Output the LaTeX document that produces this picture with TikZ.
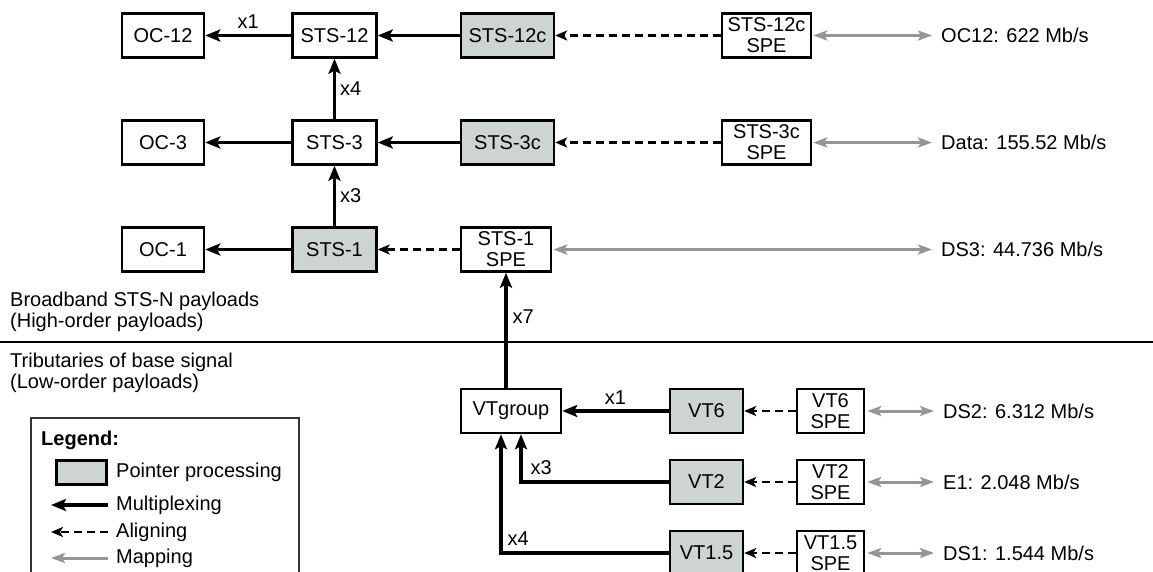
\documentclass[tikz,border=0pt]{standalone}
\usepackage{fontspec}
\setmainfont{Liberation Sans}
\usetikzlibrary{arrows.meta}
\definecolor{ptrfill}{RGB}{206,212,212}
\definecolor{mapgray}{RGB}{150,150,150}
\newcommand\dfont{\fontsize{20}{21}\selectfont}
\begin{document}
\begin{tikzpicture}[x=1pt,y=-1pt,
  box/.style={draw,line width=2.4pt,minimum height=44pt,inner sep=0pt,align=center,font=\dfont},
  ptr/.style={box,fill=ptrfill},
  lbl/.style={font=\dfont,inner sep=0pt},
  mux/.style={line width=3.2pt,-{Stealth[length=15pt,width=12pt,inset=3pt]}},
  aln/.style={line width=2.2pt,dash pattern=on 8pt off 5pt,-{Stealth[length=12pt,width=10pt,inset=3pt]}},
  mapg/.style={draw=mapgray,line width=3pt,{Stealth[length=14pt,width=10pt,inset=3pt]}-{Stealth[length=14pt,width=10pt,inset=3pt]}},
  mapone/.style={draw=mapgray,line width=3pt,-{Stealth[length=14pt,width=10pt,inset=3pt]}},
]
\useasboundingbox (0,0) rectangle (1153,571);
\clip (0,0) rectangle (1153,571);

% Row 1
\node[box,minimum width=82pt] (oc12) at (163,35.5) {OC-12};
\node[box,minimum width=84pt] (sts12) at (334.5,35.5) {STS-12};
\node[ptr,minimum width=93pt] (sts12c) at (507.5,35.5) {STS-12c};
\node[box,minimum width=89pt] (spe12c) at (766.5,35.5) {STS-12c\\SPE};
\node[lbl,anchor=west] (rate12) at (941,35.5) {OC12: 622 Mb/s};

% Row 2
\node[box,minimum width=82pt] (oc3) at (163,142.5) {OC-3};
\node[box,minimum width=84pt] (sts3) at (334.5,142.5) {STS-3};
\node[ptr,minimum width=93pt] (sts3c) at (507.5,142.5) {STS-3c};
\node[box,minimum width=89pt] (spe3c) at (766.5,142.5) {STS-3c\\SPE};
\node[lbl,anchor=west] (rate3) at (941,142.5) {Data: 155.52 Mb/s};

% Row 3
\node[box,minimum width=82pt] (oc1) at (163,249.5) {OC-1};
\node[ptr,minimum width=84pt] (sts1) at (334.5,249.5) {STS-1};
\node[box,minimum width=90pt] (spe1) at (506,249.5) {STS-1\\SPE};
\node[lbl,anchor=west] (rate1) at (941,249.5) {DS3: 44.736 Mb/s};

% Section texts
\node[lbl,anchor=west,align=left,font=\fontsize{20}{20.5}\selectfont] (hi) at (10,312) {Broadband STS-N payloads\\(High-order payloads)};
\node[lbl,anchor=west,align=left,font=\fontsize{20}{20.5}\selectfont] (lo) at (10,373) {Tributaries of base signal\\(Low-order payloads)};
\draw[line width=2pt] (0,342) -- (1153,342);

% VT region
\node[box,minimum width=100pt] (vtg) at (511,411) {VTgroup};
\node[ptr,minimum width=73pt] (vt6) at (706.5,411) {VT6};
\node[ptr,minimum width=73pt] (vt2) at (706.5,482) {VT2};
\node[ptr,minimum width=73pt] (vt15) at (706.5,553) {VT1.5};
\node[box,minimum width=67pt] (spe6) at (830.5,411) {VT6\\SPE};
\node[box,minimum width=67pt] (spe2) at (830.5,482) {VT2\\SPE};
\node[box,minimum width=67pt] (spe15) at (830.5,553) {VT1.5\\SPE};
\node[lbl,anchor=west] (rate6) at (943,411) {DS2: 6.312 Mb/s};
\node[lbl,anchor=west] (rate2) at (943,482) {E1: 2.048 Mb/s};
\node[lbl,anchor=west] (rate15) at (943,553) {DS1: 1.544 Mb/s};

% Connectors row 1
\draw[mux] (sts12) -- (oc12) node[midway,above=5pt,lbl] {x1};
\draw[mux] (sts12c) -- (sts12);
\draw[aln] (spe12c) -- (sts12c);
\draw[mapg,shorten <=1pt,shorten >=9pt] (spe12c) -- (rate12.west);
% Row 2
\draw[mux] (sts3) -- (oc3);
\draw[mux] (sts3c) -- (sts3);
\draw[aln] (spe3c) -- (sts3c);
\draw[mapg,shorten <=1pt,shorten >=9pt] (spe3c) -- (rate3.west);
\draw[mux] (sts3) -- (sts12) node[midway,right=4pt,lbl] {x4};
% Row 3
\draw[mux] (sts1) -- (oc1);
\draw[aln] (spe1) -- (sts1);
\draw[mapg,shorten <=1pt,shorten >=9pt] (spe1) -- (rate1.west);
\draw[mux] (sts1) -- (sts3) node[midway,right=4pt,lbl] {x3};
\draw[mux] (vtg.north -| spe1) -- (spe1) node[pos=0.62,right=5pt,lbl] {x7};

% VT connectors
\draw[mux] (vt6) -- (vtg) node[midway,above=5pt,lbl] {x1};
\draw[mux] (vt2.west) -| ([xshift=10pt]vtg.south) node[pos=0.5,anchor=south west,xshift=8pt,yshift=6pt,lbl] {x3};
\draw[mux] (vt15.west) -| ([xshift=-10pt]vtg.south) node[pos=0.5,anchor=south west,xshift=5pt,yshift=6pt,lbl] {x4};
\draw[aln] (spe6) -- (vt6);
\draw[aln] (spe2) -- (vt2);
\draw[aln] (spe15) -- (vt15);
\draw[mapg,shorten <=2pt,shorten >=9pt] (spe6) -- (rate6.west);
\draw[mapg,shorten <=2pt,shorten >=9pt] (spe2) -- (rate2.west);
\draw[mapg,shorten <=2pt,shorten >=9pt] (spe15) -- (rate15.west);

% Legend
\draw[line width=1.4pt,draw=black!80] (31,418) rectangle (299,620);
\node[lbl,anchor=west,font=\dfont\bfseries] (lgt) at (41,440) {Legend:};
\node[draw,line width=2.2pt,fill=ptrfill,minimum width=50pt,minimum height=24pt,inner sep=0pt] (lgbox) at (81.5,472.5) {};
\node[lbl,anchor=west] (lgp) at (116,472.5) {Pointer processing};
\node[lbl,anchor=west] (lgm) at (116,505) {Multiplexing};
\node[lbl,anchor=west] (lga) at (116,532) {Aligning};
\node[lbl,anchor=west] (lgmap) at (116,558) {Mapping};
\coordinate (lm1) at (108,505); \coordinate (lm2) at (51,505);
\coordinate (la1) at (108,532); \coordinate (la2) at (51,532);
\coordinate (lp1) at (108,558); \coordinate (lp2) at (51,558);
\draw[mux] (lm1) -- (lm2);
\draw[aln] (la1) -- (la2);
\draw[mapone] (lp1) -- (lp2);
\end{tikzpicture}
\end{document}
